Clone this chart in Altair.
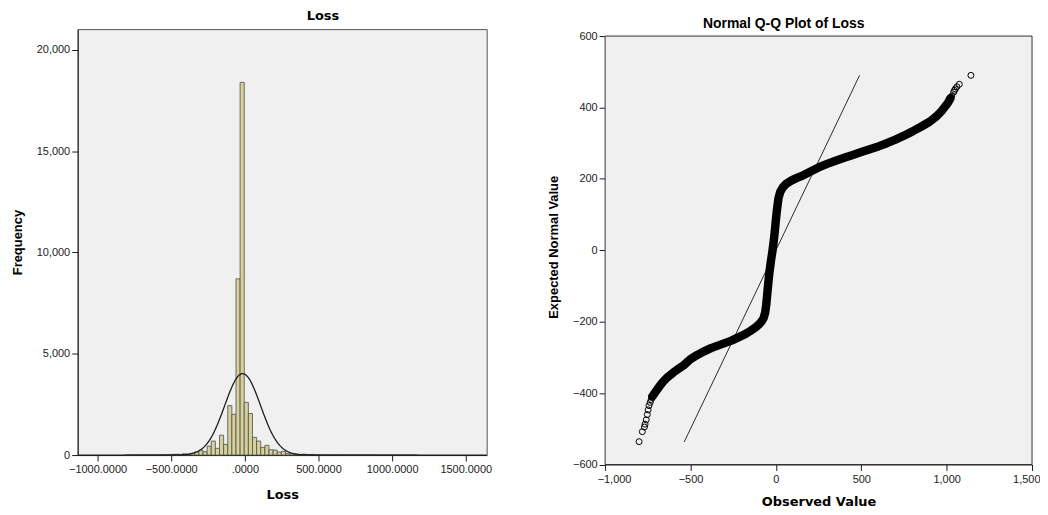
import math
import altair as alt
import pandas as pd

# ---------------- data: histogram of Loss ----------------
HIST_FIRST_EDGE = -816
HIST_BIN_WIDTH = 28
HIST_COUNTS = [
    3, 6, 10, 8, 8, 10, 12, 12, 15, 18, 25, 30, 40, 35, 60, 45, 90,          # -816 .. -340
    165, 245, 165, 440, 690, 330, 980, 525, 2440, 2015, 8700, 18400,         # -340 .. -4
    2600, 2050, 870, 690, 380, 480, 260, 245, 150, 180, 80,                  # -4 .. 304
    60, 40, 30, 45, 25, 30, 20,                                              # 304 .. 500
    15, 12, 10, 12, 8, 10, 8, 6, 8, 5, 6, 5, 4, 5, 4, 3, 4, 3, 3, 2, 3, 2, 2, 2,  # 500 .. 1172
]
NORMAL_MEAN = -15
NORMAL_SD = 122
X1_TICKS = [-1000, -500, 0, 500, 1000, 1500]
Y1_TICKS = [0, 5000, 10000, 15000, 20000]

# ---------------- data: normal Q-Q plot ----------------
QQ_OBS = [-724, -710, -695, -680, -660, -640, -620, -600, -570, -540, -500, -460, -420,
          -380, -340, -300, -260, -220, -180, -150, -120, -100, -85, -72, -63, -57, -52,
          -47, -42, -36, -29, -21, -14, -8, -3, 2, 8, 15, 25, 40, 60, 90, 120, 160, 200,
          250, 300, 350, 400, 450, 500, 550, 600, 650, 700, 750, 800, 850, 900, 940, 970,
          995, 1010, 1022]
QQ_EXP = [-410, -400, -390, -380, -368, -358, -350, -342, -332, -322, -305, -293, -283,
          -274, -267, -260, -253, -244, -235, -226, -216, -208, -200, -190, -175, -155, -130,
          -105, -80, -55, -30, -5, 20, 45, 70, 95, 120, 145, 163, 176, 186, 195, 202, 210, 220,
          232, 242, 251, 259, 267, 275, 283, 291, 300, 310, 321, 333, 346, 360, 375, 390,
          405, 415, 426]
QQ_TAIL_OBS = [-801, -782, -770, -766, -759, -753, -748, -743, -736, -730,
               1030, 1041, 1046, 1051, 1060, 1074, 1142]
QQ_TAIL_EXP = [-536, -508, -495, -487, -475, -460, -447, -435, -426, -418,
               432, 443, 448, 452, 458, 465, 490]
REF_LINE = [-537, 490]
X2_TICKS = [-1000, -500, 0, 500, 1000, 1500]
Y2_TICKS = [-600, -400, -200, 0, 200, 400, 600]
QQ_FRAME_X = [-1000, 1500]
QQ_FRAME_Y = [-600, 600]

# ---------------- tables ----------------
starts = [HIST_FIRST_EDGE + i * HIST_BIN_WIDTH for i in range(len(HIST_COUNTS))]
hist_df = pd.DataFrame({
    "start": starts,
    "end": [s + HIST_BIN_WIDTH for s in starts],
    "count": HIST_COUNTS,
})
N_TOTAL = sum(HIST_COUNTS)
PEAK = N_TOTAL * HIST_BIN_WIDTH / (NORMAL_SD * math.sqrt(2 * math.pi))

qq_df = pd.DataFrame({"obs": QQ_OBS, "exp": QQ_EXP, "order": list(range(len(QQ_OBS)))})
tail_df = pd.DataFrame({"obs": QQ_TAIL_OBS, "exp": QQ_TAIL_EXP})
ref_df = pd.DataFrame({"obs": REF_LINE, "exp": REF_LINE})
frame_df = pd.DataFrame({"x0": [QQ_FRAME_X[0]], "x1": [QQ_FRAME_X[1]],
                         "y0": [QQ_FRAME_Y[0]], "y1": [QQ_FRAME_Y[1]]})
one_row = pd.DataFrame({"k": [0]})

COMMA = "format(datum.value, ',')"

# ---------------- left: histogram ----------------
x1_scale = alt.Scale(domain=[-1135, 1642], nice=False, zero=False)
y1_scale = alt.Scale(domain=[0, 21030], nice=False, zero=True)
x1_axis = alt.Axis(values=X1_TICKS, title="Loss",
                   labelExpr="datum.value == 0 ? '.0000' : format(datum.value, '.4f')",
                   labelFlush=False, labelPadding=3,
                   titleFont="DejaVu Sans", titleFontSize=13, titleFontWeight="bold",
                   titlePadding=14)
y1_axis = alt.Axis(values=Y1_TICKS, labelExpr=COMMA, title="Frequency", labelPadding=2,
                   titleFont="Liberation Sans", titleFontSize=13, titleFontWeight="bold",
                   titlePadding=12)

bars = alt.Chart(hist_df).mark_bar(fill="#d6d09a", stroke="#4d4d4d", strokeWidth=0.8).encode(
    x=alt.X("start:Q", scale=x1_scale, axis=x1_axis),
    x2="end:Q",
    y=alt.Y("count:Q", scale=y1_scale, axis=y1_axis),
    y2=alt.datum(0),
)

curve = alt.Chart(alt.sequence(-1135, 1643, 4, as_="x")).transform_calculate(
    y=f"{PEAK} * exp(-0.5 * pow((datum.x - ({NORMAL_MEAN})) / {NORMAL_SD}, 2))"
).mark_line(color="#1e1e1e", strokeWidth=1.3).encode(
    x=alt.X("x:Q", scale=x1_scale, axis=x1_axis),
    y=alt.Y("y:Q", scale=y1_scale, axis=y1_axis),
)

# invisible spacer fixing the horizontal extent of the left panel
span1 = alt.Chart(one_row).mark_rule(opacity=0, strokeWidth=0.01).encode(
    x=alt.value(-69), x2=alt.value(421), y=alt.value(200), y2=alt.value(200)
)

left = alt.layer(bars, curve, span1).properties(
    width=411, height=428,
    view=alt.ViewBackground(fill="#f0f0f0", stroke="#555555", strokeWidth=1),
    title=alt.TitleParams("Loss", font="DejaVu Sans", fontSize=13, fontWeight="bold",
                          anchor="middle", frame="group", dx=41, offset=6,
                          color="#000000"),
)

# ---------------- right: Q-Q plot ----------------
x2_scale = alt.Scale(domain=[-1000, 1500], nice=False, zero=False)
y2_scale = alt.Scale(domain=[-600, 619.5], nice=False, zero=False)
x2_axis = alt.Axis(values=X2_TICKS, labelExpr=COMMA, title="Observed Value",
                   labelFlush=True, labelFlushOffset=8, labelPadding=3,
                   titleFont="DejaVu Sans", titleFontSize=13, titleFontWeight="bold",
                   titlePadding=11)
y2_axis = alt.Axis(values=Y2_TICKS, labelExpr=COMMA, title="Expected Normal Value",
                   labelPadding=2, domain=False,
                   titleFont="Liberation Sans", titleFontSize=13, titleFontWeight="bold",
                   titlePadding=12)

plot_frame = alt.Chart(frame_df).mark_rect(fill="#f0f0f0", stroke="#333333",
                                           strokeWidth=1).encode(
    x=alt.X("x0:Q", scale=x2_scale, axis=x2_axis),
    x2="x1:Q",
    y=alt.Y("y0:Q", scale=y2_scale, axis=y2_axis),
    y2="y1:Q",
)
ref_line = alt.Chart(ref_df).mark_line(color="#2a2a2a", strokeWidth=1).encode(
    x=alt.X("obs:Q", scale=x2_scale, axis=x2_axis),
    y=alt.Y("exp:Q", scale=y2_scale, axis=y2_axis),
)
dense = alt.Chart(qq_df).mark_line(color="#000000", strokeWidth=8.5, strokeCap="round",
                                   strokeJoin="round").encode(
    x=alt.X("obs:Q", scale=x2_scale, axis=x2_axis),
    y=alt.Y("exp:Q", scale=y2_scale, axis=y2_axis),
    order="order:Q",
)
dense_pts = alt.Chart(qq_df).mark_point(shape="circle", filled=False, color="#000000",
                                        size=36, strokeWidth=1, opacity=1).encode(
    x=alt.X("obs:Q", scale=x2_scale, axis=x2_axis),
    y=alt.Y("exp:Q", scale=y2_scale, axis=y2_axis),
)
tail_pts = alt.Chart(tail_df).mark_point(shape="circle", filled=False, color="#000000",
                                         size=36, strokeWidth=1, opacity=1).encode(
    x=alt.X("obs:Q", scale=x2_scale, axis=x2_axis),
    y=alt.Y("exp:Q", scale=y2_scale, axis=y2_axis),
)
span2 = alt.Chart(one_row).mark_rule(opacity=0, strokeWidth=0.01).encode(
    x=alt.value(-58), x2=alt.value(-58), y=alt.value(200), y2=alt.value(200)
)

right = alt.layer(plot_frame, ref_line, dense, dense_pts, tail_pts, span2).properties(
    width=429, height=437.5,
    view=alt.ViewBackground(fillOpacity=0, strokeOpacity=0),
    title=alt.TitleParams("Normal Q-Q Plot of Loss", font="Liberation Sans", fontSize=14,
                          fontWeight="bold", anchor="middle", frame="group", dx=-35,
                          offset=-2, color="#000000"),
)

chart = alt.hconcat(left, right, spacing=50).properties(padding=0).configure_axis(
    grid=False, domainColor="#1a1a1a", domainWidth=1, tickColor="#1a1a1a", tickSize=6,
    labelColor="#222222", labelFont="Liberation Sans", labelFontSize=11, titleColor="#000000"
)

chart.save("out.html", embed_options={"renderer": "svg", "actions": False})
